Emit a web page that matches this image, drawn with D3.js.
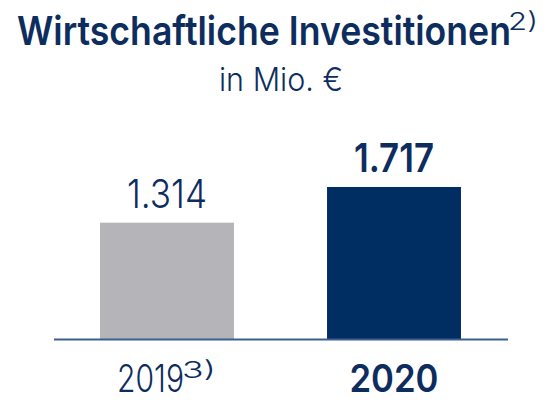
<!DOCTYPE html>
<html>
<head>
<meta charset="utf-8">
<script src="https://cdn.jsdelivr.net/npm/d3@7"></script>
<style>
  body { margin: 0; background: #fff; }
  text { font-family: Inter, Roboto, "DejaVu Sans", sans-serif; fill: #0d2d5e; }
</style>
</head>
<body>
<script>
'use strict';

const years = ["2019", "2020"];
const yearNotes = ["3)", ""];
const values = [1314, 1717];
const valueLabels = ["1.314", "1.717"];
const barColors = ["#b5b5b9", "#002d62"];
const highlight = [false, true];

const titleText = "Wirtschaftliche Investitionen";
const titleNote = "2)";
const subtitleText = "in Mio. €";

const width = 547, height = 400;

const svg = d3.select("body").append("svg")
    .attr("width", width)
    .attr("height", height);

const x = d3.scaleBand()
    .domain(years)
    .range([53.5, 507.5])
    .paddingInner(0.41)
    .paddingOuter(0.205);

const y = d3.scaleLinear()
    .domain([0, d3.max(values)])
    .range([339, 187]);

// title, main part and footnote mark drawn separately
svg.append("text")
    .attr("x", 17)
    .attr("y", 45)
    .style("font-weight", 600)
    .style("font-size", "40px")
    .attr("textLength", 494)
    .attr("lengthAdjust", "spacingAndGlyphs")
    .text(titleText);
svg.append("text")
    .attr("x", 508)
    .attr("y", 30)
    .style("font-size", "24px")
    .style("font-weight", 350)
    .attr("textLength", 30)
    .attr("lengthAdjust", "spacingAndGlyphs")
    .text(titleNote);

svg.append("text")
    .attr("x", 219)
    .attr("y", 91)
    .style("font-size", "33px")
    .style("font-weight", 350)
    .attr("textLength", 124)
    .attr("lengthAdjust", "spacingAndGlyphs")
    .text(subtitleText);

// bars
svg.selectAll("rect.bar")
    .data(values)
    .enter()
    .append("rect")
    .attr("class", "bar")
    .attr("x", (d, i) => x(years[i]))
    .attr("y", d => y(d))
    .attr("width", x.bandwidth())
    .attr("height", d => y(0) - y(d))
    .style("fill", (d, i) => barColors[i]);

// value labels
svg.selectAll("text.val")
    .data(values)
    .enter()
    .append("text")
    .attr("class", "val")
    .attr("x", (d, i) => x(years[i]) + x.bandwidth() / 2)
    .attr("y", d => y(d) - 15)
    .attr("text-anchor", "middle")
    .style("font-size", "40px")
    .style("font-weight", (d, i) => highlight[i] ? 600 : 350)
    .attr("textLength", 80)
    .attr("lengthAdjust", "spacingAndGlyphs")
    .text((d, i) => valueLabels[i]);

// axis
const xAxis = d3.axisBottom(x).tickSize(0).tickSizeOuter(0);
const axisG = svg.append("g")
    .attr("transform", "translate(0," + y(0) + ")")
    .call(xAxis)
    .attr("font-family", null)
    .attr("font-size", null);

axisG.select(".domain")
    .attr("stroke", "#3d5f8f")
    .attr("stroke-width", 2);

axisG.selectAll(".tick text").each(function(d, i) {
    const t = d3.select(this);
    const mainW = highlight[i] ? 89 : 67;
    const start = yearNotes[i] ? -50 : -mainW / 2;
    t.text(null)
        .attr("x", start)
        .attr("y", 53)
        .attr("dy", 0)
        .attr("text-anchor", "start")
        .attr("fill", "#0d2d5e")
        .style("font-size", "38px")
        .style("font-weight", highlight[i] ? 600 : 350)
        .attr("textLength", mainW)
        .attr("lengthAdjust", "spacingAndGlyphs")
        .text(d);
    if (yearNotes[i]) {
        d3.select(this.parentNode).append("text")
            .attr("x", start + mainW - 2)
            .attr("y", 39)
            .attr("text-anchor", "start")
            .attr("fill", "#0d2d5e")
            .style("font-size", "23px")
            .style("font-weight", 350)
            .attr("textLength", 34)
            .attr("lengthAdjust", "spacingAndGlyphs")
            .text(yearNotes[i]);
    }
});
</script>
</body>
</html>
